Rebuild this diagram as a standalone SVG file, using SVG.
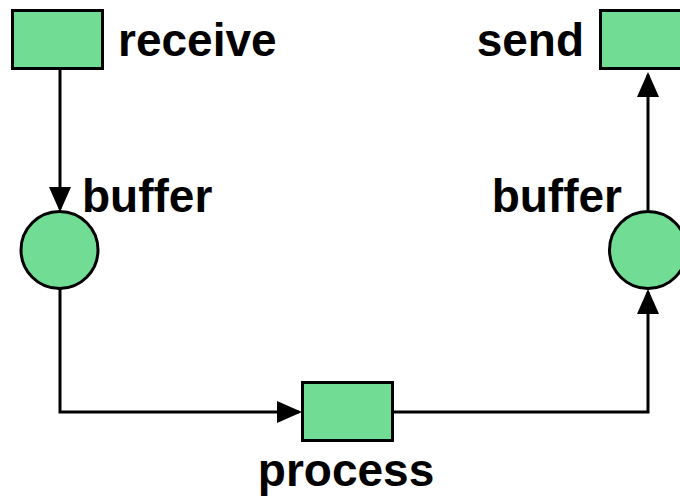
<svg xmlns="http://www.w3.org/2000/svg" width="680" height="497" viewBox="0 0 680 497">
  <style>
    .place { fill: #71DC94; stroke: #000; stroke-width: 3; }
    .trans { fill: #71DC94; stroke: #000; stroke-width: 3; }
    .lbl { font-family: "Liberation Sans", Arial, sans-serif; font-weight: bold; font-size: 46px; fill: #000; }
    .arc { fill: none; stroke: #000; stroke-width: 3; }
  </style>
  <defs>
    <marker id="arrow" viewBox="0 0 25 22" refX="22" refY="11" markerWidth="25" markerHeight="22" markerUnits="userSpaceOnUse" orient="auto">
      <path d="M0,0 L25,11 L0,22 z" fill="#000"/>
    </marker>
  </defs>

  <rect width="680" height="497" fill="#fff"/>

  <g id="connectors">
    <path class="arc" d="M60,70 L60,209" marker-end="url(#arrow)"/>
    <path class="arc" d="M60,289 L60,412 L299,412" marker-end="url(#arrow)"/>
    <path class="arc" d="M394,412 L648,412 L648,292" marker-end="url(#arrow)"/>
    <path class="arc" d="M648,210 L648,75" marker-end="url(#arrow)"/>
  </g>

  <g id="receive">
    <rect class="trans" x="12.5" y="10.5" width="90" height="58"/>
    <text class="lbl" x="118" y="56">receive</text>
  </g>

  <g id="send">
    <rect class="trans" x="600.5" y="10.5" width="90" height="58"/>
    <text class="lbl" x="584" y="56" text-anchor="end">send</text>
  </g>

  <g id="buffer-in">
    <circle class="place" cx="59.5" cy="250" r="38.5"/>
    <text class="lbl" x="82" y="212">buffer</text>
  </g>

  <g id="buffer-out">
    <circle class="place" cx="648" cy="250" r="38.5"/>
    <text class="lbl" x="622" y="212" text-anchor="end">buffer</text>
  </g>

  <g id="process">
    <rect class="trans" x="302.5" y="382.5" width="90" height="58"/>
    <text class="lbl" x="346" y="486" text-anchor="middle">process</text>
  </g>
</svg>
